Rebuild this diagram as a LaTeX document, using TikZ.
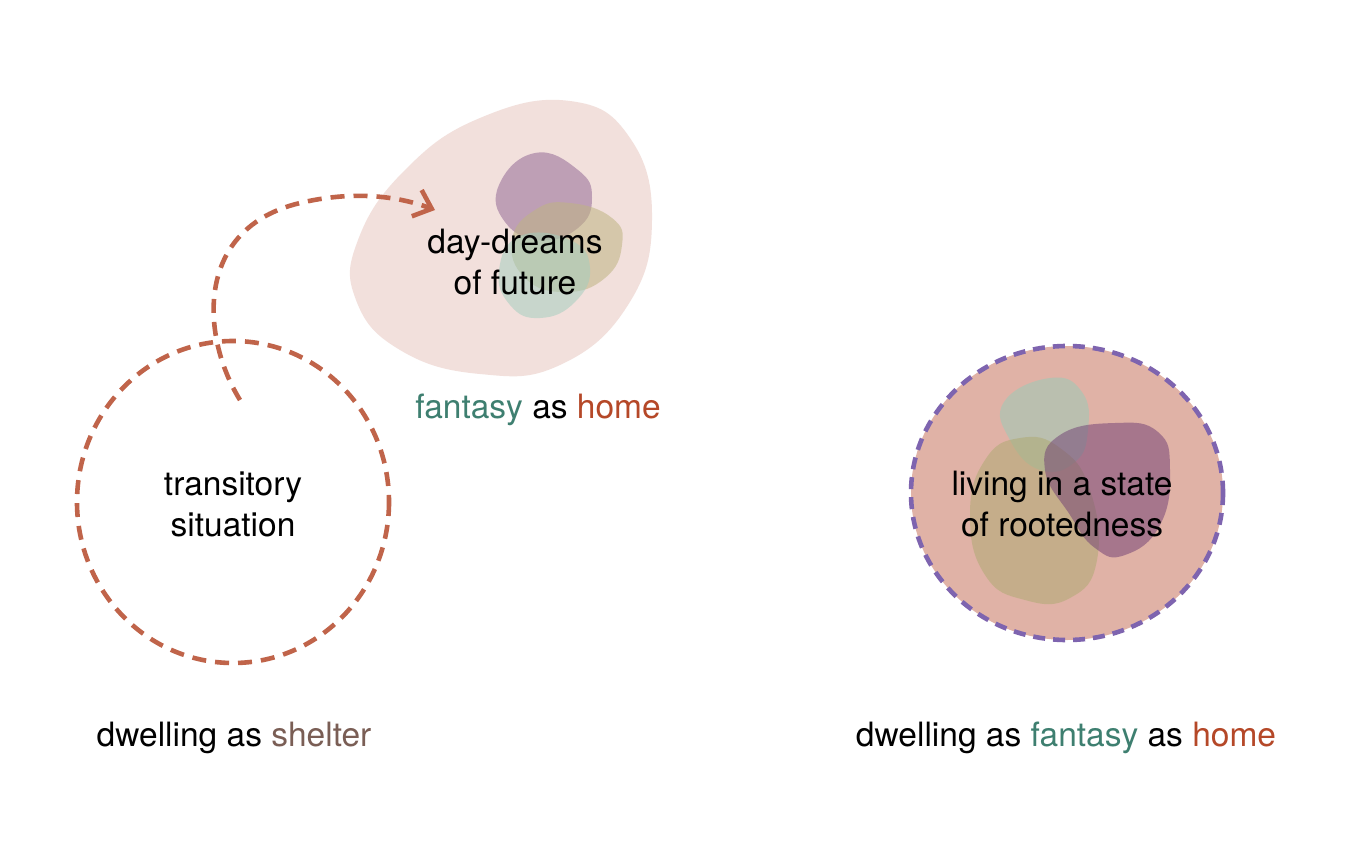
\documentclass[tikz,border=0pt]{standalone}
\usepackage{fontspec}
\setmainfont{TeX Gyre Heros}
\usetikzlibrary{arrows.meta}
\definecolor{rust}{RGB}{192,100,74}
\definecolor{eggpink}{RGB}{242,224,220}
\definecolor{salmon}{RGB}{224,178,166}
\definecolor{dashpurple}{RGB}{126,100,175}
\definecolor{teal}{RGB}{62,127,112}
\definecolor{homered}{RGB}{181,72,40}
\definecolor{shelterbrown}{RGB}{122,94,85}
\definecolor{blobpurple}{RGB}{128,80,135}
\definecolor{blobolive}{RGB}{190,180,130}
\definecolor{blobgreen}{RGB}{160,205,190}
\definecolor{rgreen}{RGB}{150,205,185}
\definecolor{rolive}{RGB}{175,170,115}
\definecolor{rpurple}{RGB}{110,60,115}
\tikzset{
  lbl/.style={font=\fontsize{33.5}{41}\selectfont, align=center, text=black, inner sep=0pt},
  rustdash/.style={draw=rust, line width=4.6pt, dash pattern=on 14pt off 9pt},
  purpledash/.style={draw=dashpurple, line width=4.6pt, dash pattern=on 12pt off 8pt},
}
\begin{document}
\begin{tikzpicture}[x=1pt,y=-1pt]
\useasboundingbox (0,0) rectangle (1371,862);
\fill[white] (0,0) rectangle (1371,862);

% ---------- top egg: fantasy as home ----------
\fill[eggpink] plot[smooth cycle, tension=0.75] coordinates
  {(570,101) (630,138) (652,220) (628,305) (560,365) (480,374) (400,350) (356,300) (358,240) (405,170) (480,118)};
\fill[blobpurple, opacity=0.45] plot[smooth cycle, tension=0.8] coordinates
  {(535,153) (578,170) (592,198) (578,228) (540,240) (505,222) (499,185)};
\fill[blobolive, opacity=0.55] plot[smooth cycle, tension=0.8] coordinates
  {(570,203) (612,218) (622,245) (605,278) (565,292) (525,278) (512,240) (535,210)};
\fill[blobgreen, opacity=0.5] plot[smooth cycle, tension=0.8] coordinates
  {(520,236) (570,240) (590,268) (575,302) (540,318) (510,305) (499,270)};

% ---------- left dashed circle ----------
\draw[rustdash] (233,502) ellipse [x radius=156, y radius=161];

% ---------- right circle ----------
\fill[salmon] (1067,493) ellipse [x radius=156, y radius=147];
\fill[rgreen, opacity=0.5] plot[smooth cycle, tension=0.8] coordinates
  {(1050,378) (1082,392) (1088,430) (1075,462) (1040,470) (1010,440) (1004,402)};
\fill[rolive, opacity=0.55] plot[smooth cycle, tension=0.8] coordinates
  {(1020,438) (1060,448) (1090,490) (1097,560) (1070,598) (1025,600) (985,575) (970,515) (985,460)};
\fill[rpurple, opacity=0.5] plot[smooth cycle, tension=0.8] coordinates
  {(1115,423) (1158,432) (1170,470) (1160,525) (1125,555) (1095,548) (1070,515) (1045,470) (1060,435)};
\draw[purpledash] (1067,493) ellipse [x radius=156, y radius=147];

% ---------- labels ----------
\node[lbl] (dream) at (515,262) {day-dreams\\of future};
\node[lbl] (fah) at (538,410) {\textcolor{teal}{fantasy} as \textcolor{homered}{home}};
\node[lbl] (trans) at (233,504) {transitory\\situation};
\node[lbl] (root) at (1062,504) {living in a state\\of rootedness};
\node[lbl] (shelter) at (234,738) {dwelling as \textcolor{shelterbrown}{shelter}};
\node[lbl] (home) at (1066,738) {dwelling as \textcolor{teal}{fantasy} as \textcolor{homered}{home}};

% ---------- dashed arrow ----------
\coordinate (astart) at (240,400);
\coordinate (aend) at (435,210);
\draw[rustdash, -{Straight Barb[length=16pt, width=28pt, line width=4.6pt]}]
  (astart) .. controls (200,335) and (195,228) .. (300,203)
  .. controls (350,191) and (395,195) .. (aend);
\end{tikzpicture}
\end{document}
